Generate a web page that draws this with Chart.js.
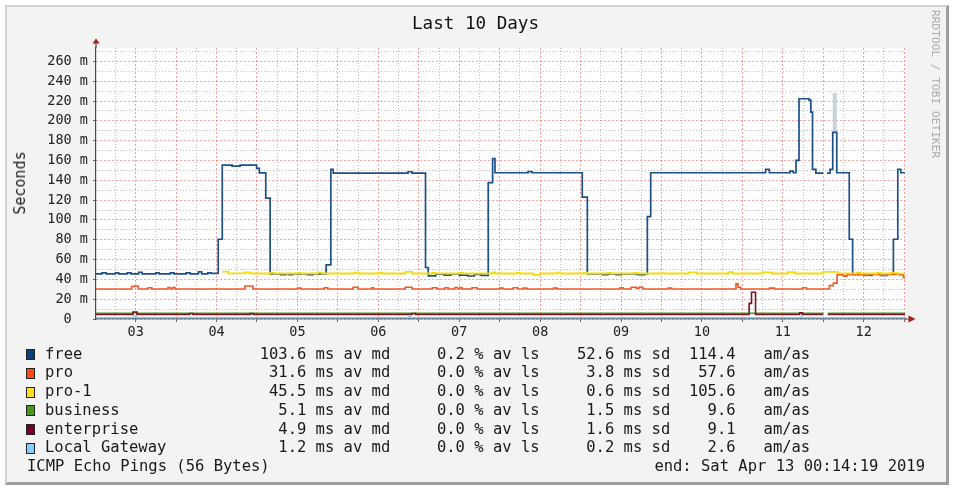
<!DOCTYPE html>
<html>
<head>
<meta charset="utf-8">
<script src="https://cdn.jsdelivr.net/npm/chart.js@4.4.1/dist/chart.umd.min.js"></script>
<style>
html,body{margin:0;padding:0;background:#fff;}
#wrap{position:relative;width:954px;height:488px;overflow:hidden;}
#frame{position:absolute;left:5px;top:5px;width:939px;height:475px;background:#f3f3f3;
  border-top:2px solid #d2d2d2;border-left:2px solid #d2d2d2;border-right:3px solid #9e9e9e;border-bottom:3px solid #9e9e9e;}
#c{position:absolute;left:0;top:0;}
.t{position:absolute;font-family:'DejaVu Sans Mono',monospace;white-space:pre;color:#1a1a1a;}
.box{position:absolute;width:7px;height:9px;border:1px solid #222;}
</style>
</head>
<body>
<div id="wrap">
  <div id="frame"></div>
  <canvas id="c" width="954" height="488"></canvas>
</div>
<script>
// ---------------- data (x = hours since Apr 03 00:00, y = milliseconds) ----------------
const seriesNames  = ['free','pro','pro-1','business','enterprise','Local Gateway'];
const lineColors   = ['#1d4f88','#f0582a','#f2dc0c','#4b9a28','#7c1522','#8ec8f2'];
const boxColors    = ['#0b3f7c','#ff4a12','#ffdd22','#4a9a1a','#7a0025','#88ccff'];
const medianMs     = [103.6, 31.6, 45.5, 5.1, 4.9, 1.2];
const lossPct      = [0.2, 0.0, 0.0, 0.0, 0.0, 0.0];
const sdevMs       = [52.6, 3.8, 0.6, 1.5, 1.6, 0.2];
const amAs         = [114.4, 57.6, 105.6, 9.6, 9.1, 2.6];

const dayLabels      = ['03','04','05','06','07','08','09','10','11','12'];
const dayNoonHours   = [12,36,60,84,108,132,156,180,204,228];
const midnightHours  = [24,48,72,96,120,144,168,192,216,240];
const yMajorTicks    = [0,20,40,60,80,100,120,140,160,180,200,220,240,260];
const yMinorTicks    = [10,30,50,70,90,110,130,150,170,190,210,230,250,270];
const X_MIN = 0.24, X_MAX = 240.24, Y_MAX = 273.5;

const freeData = [
 [0.24,45.5],[2.0,46.6],[3.3,45.5],[6.0,46.6],[7.0,45.5],[9.5,46.6],[10.6,45.5],[12.9,47.2],[13.9,45.5],
 [18.0,46.6],[19.0,45.5],[22.3,46.6],[23.4,45.5],[27.0,46.6],[28.2,45.5],[30.6,47.6],[31.6,45.5],[33.4,46.6],
 [34.4,46.0],[36.5,80.5],[37.7,155.3],[40.6,154.3],[43.0,155.3],[47.9,152.0],[48.7,147.5],[50.6,122.0],
 [51.9,45.5],[55.0,44.8],[56.5,45.5],[57.5,44.8],[58.5,45.5],[63.0,44.8],[64.6,45.5],[68.5,54.6],[69.9,151.0],
 [70.6,147.3],[92.8,148.6],[94.0,147.3],[98.0,52.0],[98.8,43.5],[101.0,45.2],[103.5,44.2],[105.5,45.5],
 [108.0,44.3],[110.5,43.4],[112.5,45.0],[114.5,44.0],[116.6,137.7],[117.9,162.0],[118.6,147.6],[128.4,148.8],
 [129.6,147.6],[144.5,123.0],[146.0,45.5],[150.6,44.8],[152.0,45.5],[154.5,44.8],[156.0,45.5],[161.0,44.8],
 [163.0,45.5],[163.8,103.4],[164.8,147.6],[198.9,151.0],[200.0,147.6],[206.1,149.2],[207.1,147.6],[207.9,160.0],
 [208.8,222.3],[211.8,220.8],[212.3,208.8],[212.8,151.0],[213.8,147.2],[216.0,147.2],[216.1,null],[217.1,147.2],
 [218.0,151.0],[218.8,188.3],[220.0,147.6],[223.7,80.5],[224.7,45.0],[228.0,44.2],[230.5,45.0],[233.0,44.0],
 [235.0,45.0],[236.8,80.5],[238.1,151.0],[239.0,147.6],[240.24,147.6]
];
const freeMaxSpike = [[219.4,188.0],[219.4,228.0]];
const proData = [
 [0.24,30.3],[10.8,32.8],[11.6,33.3],[12.8,30.3],[15.7,31.5],[16.8,30.3],[21.6,31.8],[22.3,30.3],[23.0,31.8],
 [23.7,30.3],[44.4,33.3],[46.8,30.3],[60.0,31.2],[61.0,30.3],[68.0,31.5],[69.0,30.3],[76.5,32.0],[78.0,30.3],
 [82.0,31.5],[82.6,30.3],[92.0,32.0],[94.0,30.3],[100.0,31.6],[101.4,30.3],[103.8,31.6],[104.7,30.3],
 [106.7,31.8],[107.5,30.6],[108.2,31.8],[108.8,30.3],[111.8,31.6],[113.3,30.3],[120.0,31.2],[121.0,30.3],
 [124.0,31.6],[125.4,30.3],[127.0,31.2],[128.0,30.3],[136.0,31.2],[137.0,30.3],[155.7,31.6],[156.6,30.3],
 [159.0,32.0],[160.5,31.0],[161.3,32.0],[162.5,30.3],[170.0,31.2],[171.0,30.3],[190.1,35.4],[190.7,32.0],
 [191.5,30.3],[200.0,31.2],[201.5,30.3],[209.9,31.5],[211.0,30.3],[217.8,33.7],[219.0,36.2],[220.1,44.5],
 [222.0,43.3],[223.0,44.8],[228.0,44.0],[229.5,45.2],[233.0,44.2],[235.0,45.2],[238.5,44.5],[239.8,41.7],
 [240.24,41.7]
];
const pro1Data = [
 [37.7,47.8],[39.5,46.0],[44.4,47.0],[46.0,45.9],[52.0,46.5],[53.0,45.9],[60.0,46.4],[61.0,45.9],[66.0,46.8],
 [67.2,45.9],[77.0,47.0],[78.0,45.9],[84.0,46.4],[85.0,45.9],[92.0,47.5],[94.0,45.9],[100.0,46.4],[101.0,45.9],
 [108.0,46.6],[109.0,45.9],[117.8,47.0],[118.6,45.9],[125.0,46.4],[126.0,45.9],[130.0,44.5],[132.0,45.9],
 [137.0,46.8],[138.0,45.9],[145.0,46.4],[146.0,45.9],[152.0,46.4],[153.0,45.9],[160.0,46.4],[161.0,45.9],
 [168.0,46.3],[169.0,45.9],[176.0,47.0],[178.5,45.9],[187.8,47.4],[189.2,45.9],[198.0,47.0],[200.7,45.9],
 [205.5,47.4],[207.6,45.9],[216.0,47.6],[220.3,46.0],[226.0,46.8],[227.0,45.9],[232.0,46.6],[233.0,45.9],
 [236.0,46.6],[238.0,45.7],[240.24,45.7]
];
const businessData = [
 [0.24,5.8],[11.3,6.6],[12.3,5.8],[216.0,5.8],[216.1,null],[217.3,5.8],[240.24,5.8]
];
const enterpriseData = [
 [0.24,4.5],[11.2,7.0],[12.4,4.5],[28.0,5.6],[29.0,4.5],[46.0,5.4],[47.0,4.5],[94.0,5.6],[95.0,4.5],
 [194.0,15.8],[194.7,27.0],[195.9,4.5],[209.0,6.3],[209.8,4.5],[216.0,4.5],[216.1,null],[217.3,4.5],[240.24,4.5]
];
const gatewayData = [
 [0.24,1.2],[11.5,3.0],[12.3,1.2],[93.0,2.2],[93.6,1.2],[209.2,2.0],[209.8,1.2],[240.24,1.2]
];

const titleText  = 'Last 10 Days';
const yTitle     = 'Seconds';
const watermark  = 'RRDTOOL / TOBI OETIKER';
const footerLeft = 'ICMP Echo Pings (56 Bytes)';
const footerRight= 'end: Sat Apr 13 00:14:19 2019';

// ---------------- chart ----------------
const MONO = "'DejaVu Sans Mono', monospace";
const MAJOR = 'rgba(236,80,80,0.55)';
const MINOR = 'rgba(130,130,130,0.5)';

const framePlugin = {
  id: 'frame',
  beforeDraw(chart) {
    const {ctx, chartArea: a} = chart;
    ctx.save();
    ctx.fillStyle = '#ffffff';
    ctx.fillRect(a.left, a.top, a.right - a.left, a.bottom - a.top);
    ctx.restore();
  },
  afterDraw(chart) {
    const {ctx, chartArea: a} = chart;
    ctx.save();
    ctx.strokeStyle = '#4a4a4a';
    ctx.lineWidth = 1.2;
    ctx.beginPath();
    ctx.moveTo(a.left, a.top); ctx.lineTo(a.left, a.top - 5);
    ctx.moveTo(a.right, a.bottom); ctx.lineTo(a.right + 4, a.bottom);
    ctx.stroke();
    ctx.fillStyle = '#a3201c';
    ctx.beginPath();
    ctx.moveTo(a.left - 3.5, a.top - 4.5); ctx.lineTo(a.left + 3.5, a.top - 4.5); ctx.lineTo(a.left, a.top - 9.5);
    ctx.closePath(); ctx.fill();
    ctx.beginPath();
    ctx.moveTo(a.right + 3.5, a.bottom - 3.5); ctx.lineTo(a.right + 3.5, a.bottom + 3.5); ctx.lineTo(a.right + 10.5, a.bottom);
    ctx.closePath(); ctx.fill();
    ctx.restore();
  }
};

function ds(label, data, color, order, width) {
  return {label, data, borderColor: color, backgroundColor: color, borderWidth: width,
    pointRadius: 0, stepped: true, fill: false, spanGaps: false, order, xAxisID: 'x', yAxisID: 'y'};
}

const datasets = [
  Object.assign(ds('free max', freeMaxSpike, '#c6d1de', 7, 4), {stepped: false}),
  ds(seriesNames[0], freeData, lineColors[0], 6, 1.7),
  ds(seriesNames[1], proData, lineColors[1], 5, 1.6),
  ds(seriesNames[2], pro1Data, lineColors[2], 4, 1.8),
  ds(seriesNames[3], businessData, lineColors[3], 3, 1.6),
  ds(seriesNames[4], enterpriseData, lineColors[4], 2, 1.6),
  ds(seriesNames[5], gatewayData, lineColors[5], 1, 1.6)
];

const xMajorHours = [];
dayNoonHours.forEach((h, i) => { xMajorHours.push(h, midnightHours[i]); });
const xMinorHours = xMajorHours.map(h => h - 6);

new Chart(document.getElementById('c'), {
  type: 'line',
  data: { datasets },
  plugins: [framePlugin],
  options: {
    responsive: false, animation: false, events: [],
    layout: { padding: { left: 36, right: 49, top: 48, bottom: 145 } },
    plugins: { legend: { display: false }, tooltip: { enabled: false }, title: { display: false } },
    scales: {
      x2: {
        type: 'linear', position: 'bottom', min: X_MIN, max: X_MAX,
        afterBuildTicks: s => { s.ticks = xMinorHours.map(v => ({value: v})); },
        afterFit: s => { s.height = 0; },
        ticks: { display: false },
        grid: { color: MINOR, lineWidth: 1, drawTicks: false },
        border: { display: false, dash: [1, 2] }
      },
      x: {
        type: 'linear', position: 'bottom', min: X_MIN, max: X_MAX,
        afterBuildTicks: s => { s.ticks = xMajorHours.map(v => ({value: v})); },
        afterFit: s => { s.height = 24; },
        ticks: {
          autoSkip: false, maxRotation: 0, minRotation: 0, padding: 2, color: '#222',
          font: { family: MONO, size: 13.5 },
          callback: v => { const i = dayNoonHours.indexOf(v); return i >= 0 ? dayLabels[i] : ''; }
        },
        grid: { color: MAJOR, lineWidth: 1, tickLength: 3, tickColor: 'rgba(90,60,60,0.8)' },
        border: { display: true, color: '#4a4a4a', width: 1.2, dash: [2, 2] }
      },
      y2: {
        type: 'linear', position: 'left', min: 0, max: Y_MAX,
        afterBuildTicks: s => { s.ticks = yMinorTicks.map(v => ({value: v})); },
        afterFit: s => { s.width = 0; },
        ticks: { display: false },
        grid: { color: MINOR, lineWidth: 1, drawTicks: false },
        border: { display: false, dash: [1, 2] }
      },
      y: {
        type: 'linear', position: 'left', min: 0, max: Y_MAX,
        afterBuildTicks: s => { s.ticks = yMajorTicks.map(v => ({value: v})); },
        afterFit: s => { s.width = 60; },
        ticks: {
          padding: 5, color: '#222', font: { family: MONO, size: 13.5 },
          callback: v => v === 0 ? '0  ' : v + ' m'
        },
        grid: { color: MAJOR, lineWidth: 1, tickLength: 3, tickColor: 'rgba(90,60,60,0.8)' },
        border: { display: true, color: '#4a4a4a', width: 1.2, dash: [2, 2] }
      }
    }
  }
});

// ---------------- text ----------------
const wrap = document.getElementById('wrap');
function addText(str, css) {
  const d = document.createElement('div');
  d.className = 't';
  d.textContent = str;
  Object.assign(d.style, css);
  wrap.appendChild(d);
  return d;
}
addText(titleText, {left: '475.5px', top: '12.5px', fontSize: '17.6px', lineHeight: '20px', transform: 'translateX(-50%)', color: '#111'});
addText(yTitle, {left: '19.5px', top: '183px', fontSize: '15px', lineHeight: '16px', transform: 'translate(-50%,-50%) rotate(-90deg)', color: '#222'});
addText(watermark, {left: '935px', top: '84px', fontSize: '11.2px', lineHeight: '12px', transform: 'translate(-50%,-50%) rotate(90deg)', color: '#aaaaaa'});

const ROW0 = 344.6, ROWSTEP = 18.75;
seriesNames.forEach((name, i) => {
  const row = name.padEnd(23) +
    medianMs[i].toFixed(1).padStart(5) + ' ms av md' +
    lossPct[i].toFixed(1).padStart(8) + ' % av ls' +
    sdevMs[i].toFixed(1).padStart(8) + ' ms sd' +
    amAs[i].toFixed(1).padStart(7) + '   am/as';
  const top = ROW0 + i * ROWSTEP;
  addText(row, {left: '45px', top: top + 'px', fontSize: '15.5px', lineHeight: '19px'});
  const b = document.createElement('div');
  b.className = 'box';
  b.style.left = '26px';
  b.style.top = (top + 4.5) + 'px';
  b.style.background = boxColors[i];
  wrap.appendChild(b);
});
const ftop = ROW0 + 6 * ROWSTEP;
addText(footerLeft, {left: '27px', top: ftop + 'px', fontSize: '15.5px', lineHeight: '19px'});
addText(footerRight, {right: '29px', top: ftop + 'px', fontSize: '15.5px', lineHeight: '19px'});
</script>
</body>
</html>
